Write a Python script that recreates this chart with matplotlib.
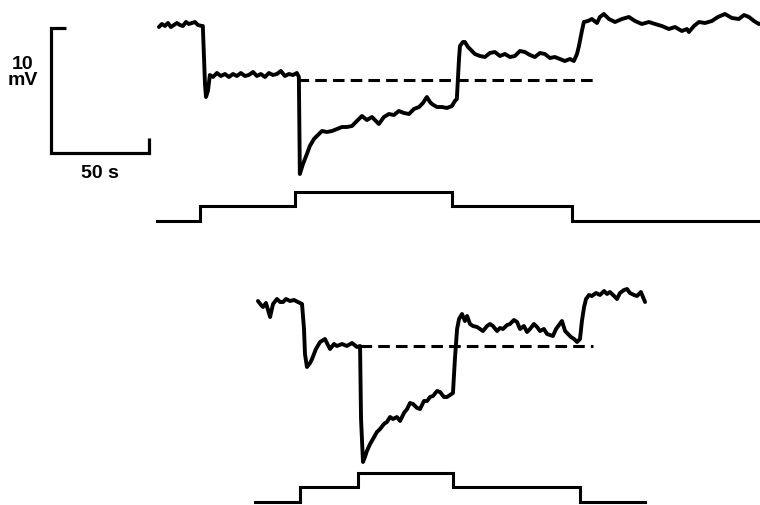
import matplotlib
matplotlib.use("Agg")
import matplotlib.pyplot as plt

# ---------------- recorded membrane potential (mV, relative to the dashed level) ----------------
# upper record: time (s) and potential (mV)
upper_t = [2.0, 3.5, 5.1, 6.6, 8.1, 9.7, 11.2, 12.7, 14.2, 15.8, 17.3, 18.8, 20.4, 21.9,
           23.9, 24.4, 25.5, 26.0, 27.0, 28.0, 29.6, 31.6, 33.6, 35.7, 37.7, 39.8, 41.8,
           43.8, 45.9, 47.9, 50.0, 52.0, 54.0, 56.1, 58.1, 60.2, 62.2, 64.2, 66.3, 68.3,
           70.4, 72.4, 73.4, 73.9, 75.5, 77.5, 79.0, 81.1, 83.1, 85.2, 87.7, 90.3, 92.8,
           95.4, 97.9, 100.5, 103.0, 105.6, 108.1, 110.7, 112.7, 114.2, 116.8, 119.3,
           121.9, 124.4, 127.0, 129.6, 132.1, 134.7, 136.7, 138.7, 140.3, 141.3, 143.8,
           146.4, 148.9, 151.5, 153.0, 154.0, 155.1, 155.6, 157.1, 158.1, 159.7, 161.2,
           163.2, 165.8, 168.3, 170.9, 173.4, 176.0, 178.5, 181.1, 183.6, 186.2, 188.7,
           191.3, 193.8, 196.4, 198.9, 201.5, 204.0, 206.6, 209.1, 211.7, 213.7, 215.3,
           216.3, 217.8, 218.8, 220.9, 222.9, 225.5, 227.0, 229.0, 231.6, 234.7, 238.2,
           241.8, 244.9, 248.4, 252.0, 255.1, 258.6, 262.2, 265.3, 268.8, 271.4, 272.4,
           275.0, 277.5, 280.6, 284.1, 287.2, 290.8, 294.3, 297.9, 300.5, 303.0, 305.6,
           308.1, 309.7]
upper_v = [4.20, 4.44, 4.28, 4.52, 4.20, 4.36, 4.52, 4.36, 4.28, 4.60, 4.44, 4.52, 4.60,
           4.36, 4.28, 4.28, -0.36, -1.40, -0.92, 0.36, 0.20, 0.52, 0.28, 0.44, 0.20,
           0.44, 0.28, 0.52, 0.28, 0.36, 0.60, 0.28, 0.44, 0.20, 0.52, 0.36, 0.44, 0.68,
           0.28, 0.44, 0.36, 0.52, 0.20, -7.56, -6.76, -5.96, -5.32, -4.76, -4.44, -4.12,
           -4.20, -4.12, -3.96, -3.80, -3.80, -3.72, -3.32, -2.92, -3.24, -3.00, -3.32,
           -3.56, -3.00, -2.76, -2.84, -2.52, -2.68, -2.76, -2.36, -2.20, -1.88, -1.40,
           -1.80, -1.96, -2.20, -2.20, -2.28, -2.12, -1.72, -1.56, 1.64, 2.68, 3.00, 3.00,
           2.60, 2.36, 2.04, 1.88, 1.80, 2.12, 2.20, 1.88, 2.04, 1.80, 1.88, 2.28, 2.20,
           1.96, 1.80, 2.12, 2.04, 1.72, 1.80, 1.64, 1.48, 1.64, 1.48, 2.04, 2.68, 3.88,
           4.60, 4.68, 4.84, 4.52, 5.00, 5.24, 4.84, 4.60, 4.84, 5.00, 4.68, 4.44, 4.60,
           4.44, 4.28, 4.04, 4.20, 3.88, 4.04, 3.80, 4.28, 4.60, 4.52, 4.68, 5.00, 5.24,
           4.92, 4.84, 5.16, 5.00, 4.68, 4.44, 4.52]

# lower record: time (s) and potential (mV)
lower_t = [1.5, 3.1, 4.1, 5.6, 7.7, 9.2, 11.2, 12.8, 14.3, 15.8, 17.9, 19.9, 21.9, 24.0,
           25.0, 25.5, 26.5, 28.1, 29.1, 31.1, 33.2, 35.7, 37.2, 38.3, 40.3, 41.8, 44.4,
           46.9, 49.5, 52.0, 53.6, 54.1, 55.1, 56.1, 57.1, 58.7, 60.2, 62.2, 63.8, 65.8,
           67.3, 68.9, 70.4, 72.4, 74.0, 76.0, 77.6, 79.1, 80.6, 82.7, 84.2, 86.2, 87.8,
           89.3, 90.8, 92.9, 94.4, 96.4, 98.0, 99.5, 101.0, 102.0, 103.1, 104.1, 105.6,
           107.1, 108.2, 109.7, 111.2, 113.3, 114.8, 116.3, 118.4, 119.9, 121.4, 123.5,
           125.0, 126.5, 128.6, 130.1, 132.1, 133.7, 135.2, 137.2, 138.8, 140.3, 142.3,
           143.9, 145.4, 147.4, 149.0, 150.5, 152.0, 153.6, 155.1, 156.6, 158.2, 159.7,
           161.2, 162.8, 164.3, 165.8, 166.8, 167.9, 168.9, 170.4, 171.9, 174.0, 176.0,
           178.1, 179.6, 181.1, 183.2, 184.7, 186.2, 188.3, 189.8, 191.3, 193.4, 194.9,
           196.9, 199.0]
lower_v = [3.60, 3.28, 3.12, 3.44, 2.32, 3.36, 3.76, 3.52, 3.52, 3.76, 3.60, 3.68, 3.52,
           3.36, 1.36, -0.64, -1.68, -1.36, -1.04, -0.24, 0.32, 0.56, 0.08, -0.24, 0.16,
           0.00, 0.16, 0.00, 0.24, -0.08, 0.00, -5.84, -9.28, -8.88, -8.40, -7.84, -7.44,
           -6.88, -6.64, -6.24, -6.08, -5.68, -5.84, -5.68, -6.00, -5.36, -5.04, -4.56,
           -4.64, -4.96, -5.04, -4.40, -4.40, -4.08, -4.00, -3.60, -3.68, -4.08, -4.08,
           -3.92, -3.76, -1.04, 1.36, 2.16, 2.56, 2.00, 2.40, 1.76, 1.60, 1.52, 1.36,
           1.20, 1.60, 1.76, 1.60, 1.20, 1.44, 1.36, 1.68, 1.76, 2.08, 1.92, 1.36, 1.60,
           1.12, 1.36, 1.76, 1.52, 1.20, 1.36, 0.96, 0.88, 0.80, 1.36, 1.68, 2.00, 1.20,
           0.96, 0.72, 0.56, 0.32, 0.56, 2.00, 3.12, 3.76, 4.08, 4.00, 4.24, 4.08, 4.40,
           4.16, 4.32, 4.00, 3.76, 4.24, 4.48, 4.56, 4.24, 4.08, 4.00, 4.32, 3.52]

# reference (initial resting) level drawn as dashed line: start/end time (s)
upper_ref_span = [72.4, 225.5]
lower_ref_span = [53.6, 172.4]

# stimulus protocol: step times (s) and step level (0, 1, 2)
upper_stim_t = [1.0, 23.0, 71.4, 151.5, 212.8, 308.7]
upper_stim_level = [0, 1, 2, 1, 0, 0]
lower_stim_t = [0.0, 23.0, 52.6, 101.0, 165.8, 199.0]
lower_stim_level = [0, 1, 2, 1, 0, 0]

# calibration bar
scale_mv = 10
scale_s = 50

# ---------------- layout constants ----------------
PX_PER_S = 1.96
PX_PER_MV = 12.5
W, H = 760, 506
X0_PX = 155          # left edge (px) of the upper record's time origin
Y0_PX = 80.5         # height (px from top) of the upper dashed level
LOWER_DT = 100 / PX_PER_S      # horizontal offset of lower record (s)
LOWER_DV = -266.5 / PX_PER_MV  # vertical offset of lower record (mV)
UPPER_STIM_BASE = -11.32
LOWER_STIM_BASE = -33.8
STIM_STEP = 1.18

fig = plt.figure(figsize=(W / 100, H / 100), dpi=100)
ax = fig.add_axes([0, 0, 1, 1])
ax.set_xlim(-X0_PX / PX_PER_S, (W - X0_PX) / PX_PER_S)
ax.set_ylim(-(H - Y0_PX) / PX_PER_MV, Y0_PX / PX_PER_MV)
ax.axis("off")

ink = "#000000"
trace_kw = dict(color=ink, lw=2.8, solid_joinstyle="round", solid_capstyle="round")
stim_kw = dict(color=ink, lw=2.2, drawstyle="steps-post", solid_joinstyle="miter")
dash_kw = dict(color=ink, lw=2.2, dashes=(3.8, 2.0))

# upper record
ax.plot(upper_t, upper_v, **trace_kw)
ax.plot(upper_ref_span, [0, 0], **dash_kw)
ax.plot(upper_stim_t, [UPPER_STIM_BASE + STIM_STEP * l for l in upper_stim_level], **stim_kw)

# lower record
ax.plot([t + LOWER_DT for t in lower_t], [v + LOWER_DV for v in lower_v], **trace_kw)
ax.plot([t + LOWER_DT for t in lower_ref_span], [LOWER_DV, LOWER_DV], **dash_kw)
ax.plot([t + LOWER_DT for t in lower_stim_t],
        [LOWER_STIM_BASE + STIM_STEP * l for l in lower_stim_level], **stim_kw)

# calibration bars
bx = (51 - X0_PX) / PX_PER_S
by_top = 4.12
by_bot = by_top - scale_mv
ax.plot([bx + 7.7, bx, bx, bx + scale_s, bx + scale_s],
        [by_top, by_top, by_bot, by_bot, by_bot + 1.2],
        color=ink, lw=2.3, solid_joinstyle="miter", solid_capstyle="butt")

font = dict(family=["Liberation Sans", "DejaVu Sans"], fontweight="bold", fontsize=14,
            color=ink)
ax.text(bx - 14.5, 0.62, f"{scale_mv}\nmV", ha="center", va="center", linespacing=0.9, **font)
ax.text(bx + scale_s / 2, by_bot - 1.6, f"{scale_s} s", ha="center", va="center", **font)

fig.savefig("out.png", dpi=100, facecolor="white")
